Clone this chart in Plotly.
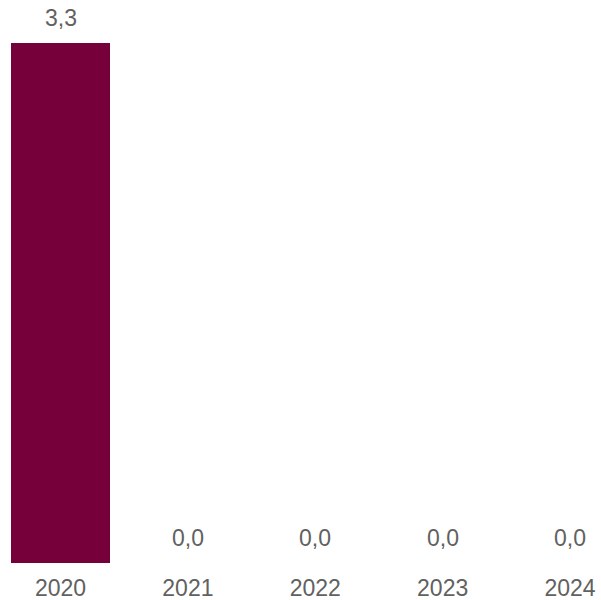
import plotly.graph_objects as go

years = ["2020", "2021", "2022", "2023", "2024"]
values = [3.3, 0.0, 0.0, 0.0, 0.0]
labels = [f"{v:.1f}".replace(".", ",") for v in values]

bar_color = "#75003A"
text_color = "#616161"
font_family = "Liberation Sans, Arial, sans-serif"

fig = go.Figure()
fig.add_trace(go.Bar(
    x=years, y=values,
    marker=dict(color=bar_color, line=dict(width=0)),
    width=0.777,
    hoverinfo="skip",
))

for i, (v, lab) in enumerate(zip(values, labels)):
    fig.add_annotation(
        x=i, y=v, xref="x", yref="y", text=lab, showarrow=False,
        yanchor="middle", xanchor="center", yshift=25,
        font=dict(family=font_family, size=23, color=text_color),
    )

fig.update_layout(
    width=601, height=600,
    margin=dict(l=0, r=0, t=0, b=37),
    paper_bgcolor="white", plot_bgcolor="white",
    showlegend=False,
    separators=",.",
    bargap=0,
    xaxis=dict(
        type="category",
        range=[-0.475, 4.243],
        showgrid=False, zeroline=False, showline=False, ticks="",
        tickfont=dict(family=font_family, size=23, color=text_color),
        ticklabelstandoff=9,
    ),
    yaxis=dict(
        range=[0, 3.3 * 563 / 520],
        visible=False,
    ),
)

fig.write_html(
    "out.html",
    config={"displayModeBar": False},
    post_script="document.body.style.margin='0';document.body.style.overflow='hidden';",
)
